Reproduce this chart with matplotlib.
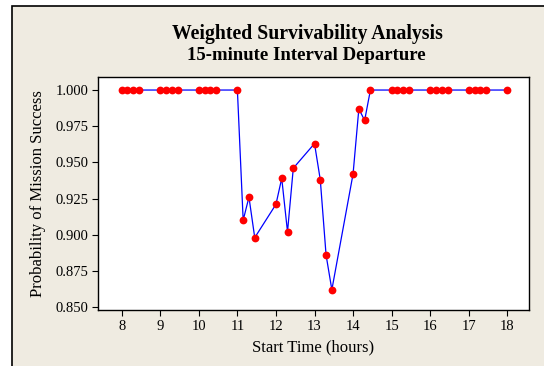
import matplotlib
matplotlib.use("Agg")
import matplotlib.pyplot as plt
from matplotlib.patches import Rectangle

# start times written as hh.mm (15-minute departures)
start_time = [8.00, 8.15, 8.30, 8.45, 9.00, 9.15, 9.30, 9.45,
              10.00, 10.15, 10.30, 10.45, 11.00, 11.15, 11.30, 11.45,
              12.00, 12.15, 12.30, 12.45, 13.00, 13.15, 13.30, 13.45,
              14.00, 14.15, 14.30, 14.45, 15.00, 15.15, 15.30, 15.45,
              16.00, 16.15, 16.30, 16.45, 17.00, 17.15, 17.30, 17.45, 18.00]
prob_success = [1.000, 1.000, 1.000, 1.000, 1.000, 1.000, 1.000, 1.000,
                1.000, 1.000, 1.000, 1.000, 1.000, 0.910, 0.926, 0.898,
                0.921, 0.939, 0.902, 0.946, 0.963, 0.938, 0.886, 0.862,
                0.942, 0.987, 0.979, 1.000, 1.000, 1.000, 1.000, 1.000,
                1.000, 1.000, 1.000, 1.000, 1.000, 1.000, 1.000, 1.000, 1.000]
x_ticks = list(range(8, 19))
y_ticks = [0.850, 0.875, 0.900, 0.925, 0.950, 0.975, 1.000]

plt.rcParams['font.family'] = ['Liberation Serif', 'DejaVu Serif']

W, H = 544, 366
fig = plt.figure(figsize=(W / 100, H / 100), dpi=100)
fig.patch.set_facecolor('white')

# beige panel with black border (left/top edges visible)
fig.patches.append(Rectangle((11.5 / W, -0.1), 1.2, 1.1 - 6 / H,
                             transform=fig.transFigure, facecolor='#EFEBE1',
                             edgecolor='black', linewidth=1.2, zorder=-5))

ax = fig.add_axes([98 / W, 1 - 310 / H, (529 - 98) / W, (310 - 77.3) / H])
ax.set_facecolor('white')

ax.plot(start_time, prob_success, color='#0000FF', linewidth=0.9, zorder=2)
ax.plot(start_time, prob_success, linestyle='none', marker='o',
        markersize=5.6, color='#FF0000', markeredgewidth=0, zorder=3)

ax.set_xlim(7.385, 18.563)
ax.set_ylim(0.848, 1.0088)
ax.set_xticks(x_ticks)
ax.set_yticks(y_ticks)
ax.set_yticklabels([f"{v:.3f}" for v in y_ticks])
ax.tick_params(direction='out', length=4, width=0.8, labelsize=10.5, pad=3)
for s in ax.spines.values():
    s.set_linewidth(1.0)

ax.set_xlabel('Start Time (hours)', fontsize=12, labelpad=5)
ax.set_ylabel('Probability of Mission Success', fontsize=12, labelpad=7)

fig.text(307 / W, 1 - 34 / H, 'Weighted Survivability Analysis',
         ha='center', va='center', fontsize=14.2, fontweight='bold')
fig.text(306 / W, 1 - 55 / H, '15-minute Interval Departure',
         ha='center', va='center', fontsize=13.5, fontweight='bold')

fig.savefig('out.png', dpi=100)
